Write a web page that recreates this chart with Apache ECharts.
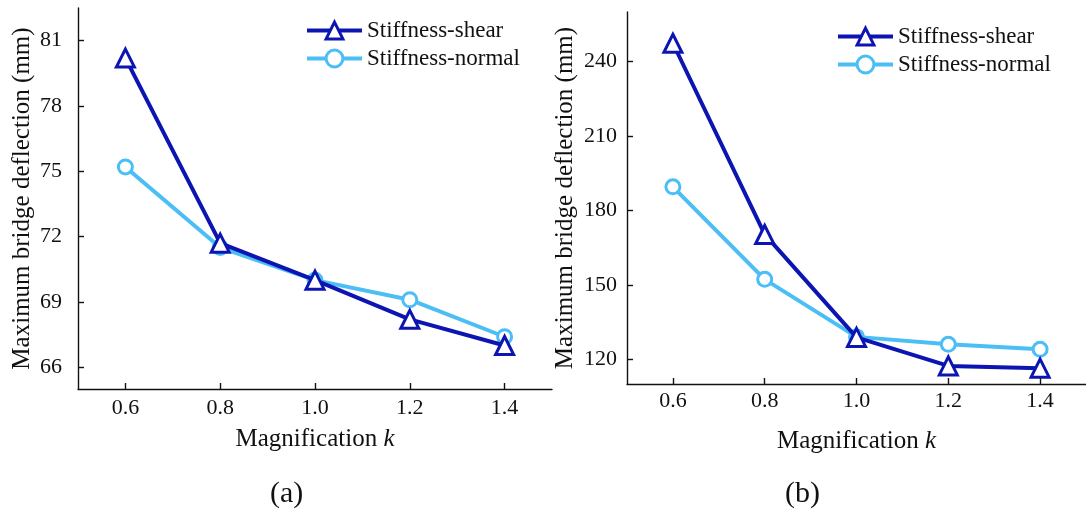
<!DOCTYPE html>
<html>
<head>
<meta charset="utf-8">
<script src="https://cdn.jsdelivr.net/npm/echarts@6/dist/echarts.min.js"></script>
<style>
html,body{margin:0;padding:0;background:#fff;}
#c{width:1086px;height:516px;}
</style>
</head>
<body>
<div id="c"></div>
<script>
// ---- data ----
const magnification = [0.6, 0.8, 1.0, 1.2, 1.4];
const shearA  = [80.2, 71.7, 70.0, 68.2, 67.0];
const normalA = [75.2, 71.5, 70.0, 69.1, 67.4];
const shearB  = [247.4, 170.3, 128.8, 117.3, 116.4];
const normalB = [189.5, 152.2, 129.0, 126.0, 124.0];
const yTicksA = [66, 69, 72, 75, 78, 81];
const yTicksB = [120, 150, 180, 210, 240];
const seriesNames = ['Stiffness-shear', 'Stiffness-normal'];
const captions = ['(a)', '(b)'];

const darkBlue = '#0c15b2';
const lightBlue = '#4cbef6';
const serif = '"Liberation Serif", "Times New Roman", serif';

function pairs(xs, ys){ return xs.map((x,i)=>[x, ys[i]]); }

function xAxisCfg(gridIndex, labelMargin, nameGap){
  return {
    type:'value', gridIndex, min:0.5, max:1.5,
    axisLine:{show:true, onZero:false, lineStyle:{color:'#111', width:1.4}},
    axisTick:{show:true, inside:true, length:6, customValues:magnification, lineStyle:{color:'#111', width:1.4}},
    axisLabel:{customValues:magnification, formatter:v=>v.toFixed(1), fontFamily:serif, fontSize:22, color:'#111', margin:labelMargin},
    splitLine:{show:false},
    name:'Magnification {i|k}', nameLocation:'middle', nameGap,
    nameTextStyle:{fontFamily:serif, fontSize:25, color:'#111', rich:{i:{fontFamily:serif, fontStyle:'italic', fontSize:25, color:'#111'}}}
  };
}
function yAxisCfg(gridIndex, min, max, ticks, labelMargin, gap){
  return {
    type:'value', gridIndex, min, max,
    axisLine:{show:true, onZero:false, lineStyle:{color:'#111', width:1.4}},
    axisTick:{show:true, inside:true, length:6, customValues:ticks, lineStyle:{color:'#111', width:1.4}},
    axisLabel:{customValues:ticks, fontFamily:serif, fontSize:22, color:'#111', margin:labelMargin},
    splitLine:{show:false},
    name:'Maximum bridge deflection (mm)', nameLocation:'middle', nameGap:gap,
    nameTextStyle:{fontFamily:serif, fontSize:25, color:'#111'}
  };
}
function lineSeries(name, data, xi, color, symbol, size){
  return {
    type:'line', name, xAxisIndex:xi, yAxisIndex:xi, data,
    symbol, symbolSize:size, showAllSymbol:true,
    lineStyle:{color, width:4},
    itemStyle:{color:'#fff', borderColor:color, borderWidth:3},
    emphasis:{disabled:true}, animation:false, z: color===darkBlue?3:2
  };
}
function legendCfg(left, top){
  return {left, top, orient:'vertical', itemWidth:55, itemHeight:21, itemGap:5,
    lineStyle:{width:4}, itemStyle:{borderWidth:3},
    textStyle:{fontFamily:serif, fontSize:23, color:'#111', lineHeight:21},
    data:seriesNames};
}

const chart = echarts.init(document.getElementById('c'), null, {renderer:'canvas'});
chart.setOption({
  backgroundColor:'#fff',
  animation:false,
  grid:[
    {left:78, top:8, width:474, bottom:127},
    {left:627, top:12, width:463, bottom:132}
  ],
  xAxis:[xAxisCfg(0, 8, 38), xAxisCfg(1, 6, 45)],
  yAxis:[yAxisCfg(0, 65, 82.5, yTicksA, 16, 43), yAxisCfg(1, 110, 260, yTicksB, 10, 49)],
  legend:[legendCfg(300, 14), legendCfg(831, 20)],
  series:[
    lineSeries(seriesNames[1], pairs(magnification, normalA), 0, lightBlue, 'circle', 14),
    lineSeries(seriesNames[0], pairs(magnification, shearA), 0, darkBlue, 'triangle', 18),
    lineSeries(seriesNames[1], pairs(magnification, normalB), 1, lightBlue, 'circle', 14),
    lineSeries(seriesNames[0], pairs(magnification, shearB), 1, darkBlue, 'triangle', 18)
  ],
  graphic:[
    {type:'text', left:270, top:479, style:{text:captions[0], font:'30px '+serif, fill:'#111'}},
    {type:'text', left:785, top:479, style:{text:captions[1], font:'30px '+serif, fill:'#111'}}
  ]
});
</script>
</body>
</html>
